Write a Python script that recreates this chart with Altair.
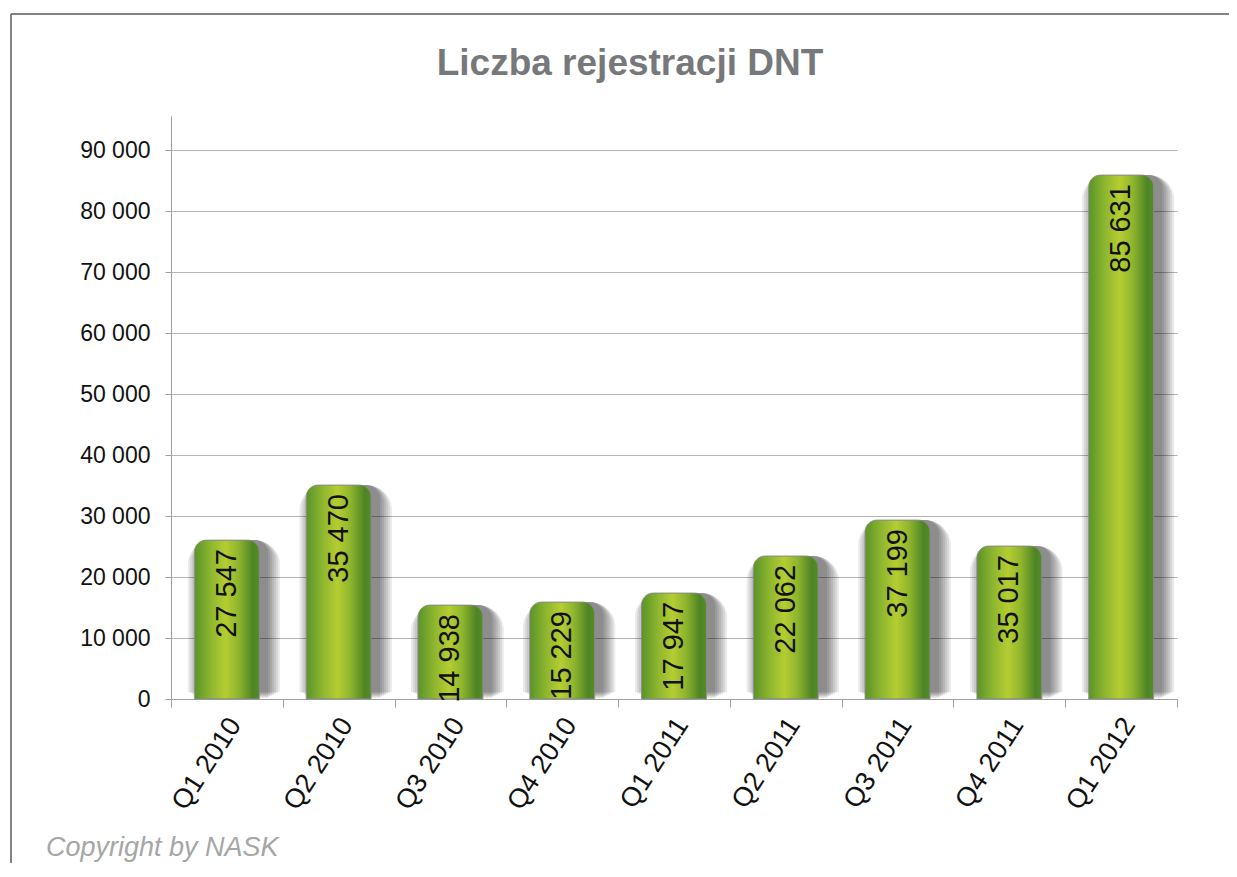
import altair as alt
import pandas as pd

# ---- data ----
quarters = ["Q1 2010", "Q2 2010", "Q3 2010", "Q4 2010", "Q1 2011",
            "Q2 2011", "Q3 2011", "Q4 2011", "Q1 2012"]
bar_heights = [26050, 35080, 15400, 15900, 17380, 23450, 29340, 25080, 85900]
value_labels = ["27 547", "35 470", "14 938", "15 229", "17 947",
                "22 062", "37 199", "35 017", "85 631"]
y_ticks = [0, 10000, 20000, 30000, 40000, 50000, 60000, 70000, 80000, 90000]
title_text = "Liczba rejestracji DNT"
copyright_text = "Copyright by NASK"

df = pd.DataFrame({"q": quarters, "h": bar_heights, "lab": value_labels})
one = pd.DataFrame({"a": [0]})

W, H = 1006, 583
FONT = "Liberation Sans"
BAR_W = 65

x_enc = alt.X(
    "q:N", sort=quarters,
    scale=alt.Scale(paddingInner=0, paddingOuter=0),
    axis=alt.Axis(
        title=None, labelAngle=-57, labelAlign="right", labelBaseline="top",
        labelFontSize=27, labelFont=FONT, labelColor="#111111",
        tickBand="extent", tickSize=8, tickColor="#a0a0a0",
        domainColor="#a0a0a0", labelPadding=6, labelOffset=-3,
        grid=False, labelOverlap=False,
    ),
)
y_enc = alt.Y(
    "h:Q",
    scale=alt.Scale(domain=[0, 95574], nice=False, zero=True),
    axis=alt.Axis(
        values=y_ticks, title=None,
        labelExpr="replace(format(datum.value, ','), ',', ' ')",
        labelFontSize=23, labelFont=FONT, labelColor="#111111",
        tickSize=6, tickColor="#a0a0a0", domainColor="#a0a0a0",
        gridColor="#b4b4b4", labelPadding=15, grid=True,
    ),
)

base = alt.Chart(df)

layers = []
# soft drop shadow
for k in range(1, 8):
    layers.append(
        base.mark_bar(
            width=BAR_W + 4 * k, xOffset=7, yOffset=-k, y2Offset=k + 2,
            color="#000000", opacity=0.08,
            cornerRadiusTopLeft=12 + 2 * k, cornerRadiusTopRight=12 + 2 * k,
        ).encode(x=x_enc, y=y_enc)
    )

gradient = alt.LinearGradient(
    gradient="linear", x1=0, x2=1, y1=0, y2=0,
    stops=[
        alt.GradientStop(color="#5a9329", offset=0),
        alt.GradientStop(color="#8db62f", offset=0.25),
        alt.GradientStop(color="#b5cd31", offset=0.48),
        alt.GradientStop(color="#8fb52d", offset=0.68),
        alt.GradientStop(color="#4d8424", offset=0.9),
        alt.GradientStop(color="#568c27", offset=1),
    ],
)
bars = base.mark_bar(
    width=BAR_W, color=gradient,
    cornerRadiusTopLeft=12, cornerRadiusTopRight=12,
    stroke="#8a8a8a", strokeWidth=0.8,
).encode(x=x_enc, y=y_enc)
layers.append(bars)

labels = base.mark_text(
    angle=270, align="right", baseline="middle", dx=-9,
    fontSize=29, font=FONT, color="#111111",
).encode(x=alt.X("q:N", sort=quarters), y="h:Q", text="lab:N")
layers.append(labels)

title = alt.Chart(one).mark_text(
    align="center", baseline="alphabetic", fontSize=37, font=FONT,
    fontWeight="bold", color="#77787b",
).encode(x=alt.value(459), y=alt.value(-41), text=alt.value(title_text))

copyright_mark = alt.Chart(one).mark_text(
    align="left", baseline="alphabetic", fontSize=27, font=FONT,
    fontStyle="italic", color="#a6a6a6",
).encode(x=alt.value(-125), y=alt.value(740), text=alt.value(copyright_text))

frame_top = alt.Chart(one).mark_rule(color="#5a5a5a", strokeWidth=1.5).encode(
    x=alt.value(-160), x2=alt.value(1060), y=alt.value(-102)
)
frame_left = alt.Chart(one).mark_rule(color="#5a5a5a", strokeWidth=1.5).encode(
    x=alt.value(-160), y=alt.value(-102), y2=alt.value(760)
)

chart = alt.layer(
    frame_top, frame_left, *layers, title, copyright_mark
).properties(
    width=W, height=H,
    autosize=alt.AutoSizeParams(type="none"),
    padding={"left": 163, "top": 108, "right": 52, "bottom": 164},
    background="white",
).configure_view(strokeWidth=0)

chart.save("out.html", embed_options={"renderer": "svg", "actions": False})
